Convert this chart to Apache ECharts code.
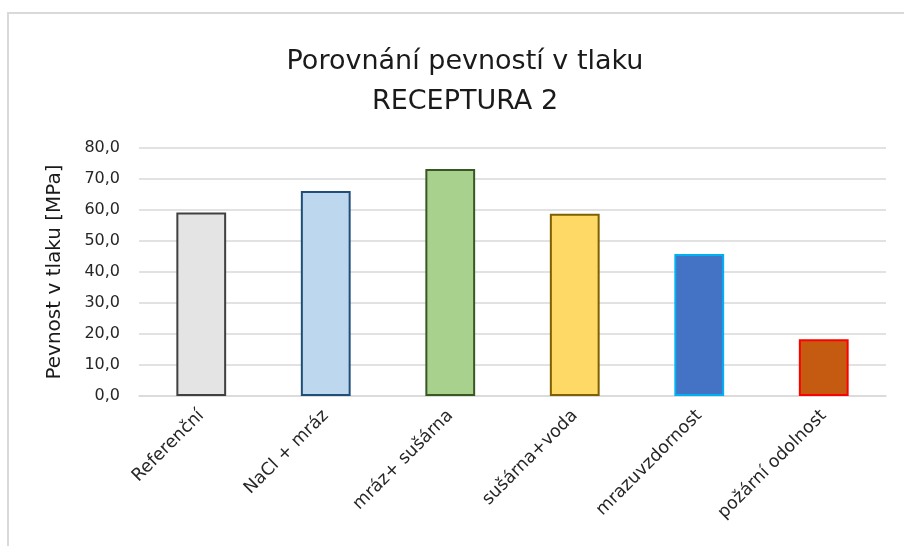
<!DOCTYPE html>
<html><head><meta charset="utf-8">
<script src="https://cdn.jsdelivr.net/npm/echarts@6/dist/echarts.min.js"></script>
<style>html,body{margin:0;padding:0;background:#fff}#c{width:904px;height:546px}</style>
</head><body><div id="c"></div>
<script>
const categories = ['Referenční','NaCl + mráz','mráz+ sušárna','sušárna+voda','mrazuvzdornost','požární odolnost'];
const values = [59.2, 66.1, 73.2, 58.8, 45.8, 18.3];
const fills = ['#e4e4e4','#bdd7ee','#a9d18e','#ffd966','#4472c4','#c55a11'];
const borders = ['#404040','#1f4e79','#385723','#7f6000','#00b0f0','#ff0000'];
const titleLines = ['Porovnání pevností v tlaku','RECEPTURA 2'];
const yAxisName = 'Pevnost v tlaku [MPa]';

const font = 'DejaVu Sans';
const chart = echarts.init(document.getElementById('c'), null, {renderer:'canvas'});
chart.setOption({
  animation:false,
  backgroundColor:'#fff',
  title:{text:titleLines.join('\n'), left:460, top:37, textAlign:'center',
    textStyle:{fontFamily:font,fontSize:27,fontWeight:'normal',color:'#1a1a1a',lineHeight:40}},
  graphic:[{type:'rect',shape:{x:8,y:13,width:1000,height:1000},style:{fill:'none',stroke:'#d9d9d9',lineWidth:2},silent:true}],
  grid:{left:139,right:18,top:148,bottom:150,containLabel:false},
  xAxis:{type:'category',data:categories,
    axisLine:{lineStyle:{color:'#d9d9d9',width:1.5}},axisTick:{show:false},
    axisLabel:{rotate:45,interval:0,margin:17,fontFamily:font,fontSize:17.5,color:'#262626'}},
  yAxis:{type:'value',min:0,max:80,interval:10,name:yAxisName,nameLocation:'middle',nameGap:74,
    nameTextStyle:{fontFamily:font,fontSize:20,color:'#1a1a1a'},
    axisLabel:{formatter:v=>v.toFixed(1).replace('.',','),fontFamily:font,fontSize:16,color:'#262626',margin:19},
    splitLine:{lineStyle:{color:'#d9d9d9',width:1.5}},axisLine:{show:false},axisTick:{show:false}},
  series:[{type:'bar',barWidth:'40%',
    data:values.map((v,i)=>({value:v,itemStyle:{color:fills[i],borderColor:borders[i],borderWidth:2}}))}]
});
</script></body></html>
